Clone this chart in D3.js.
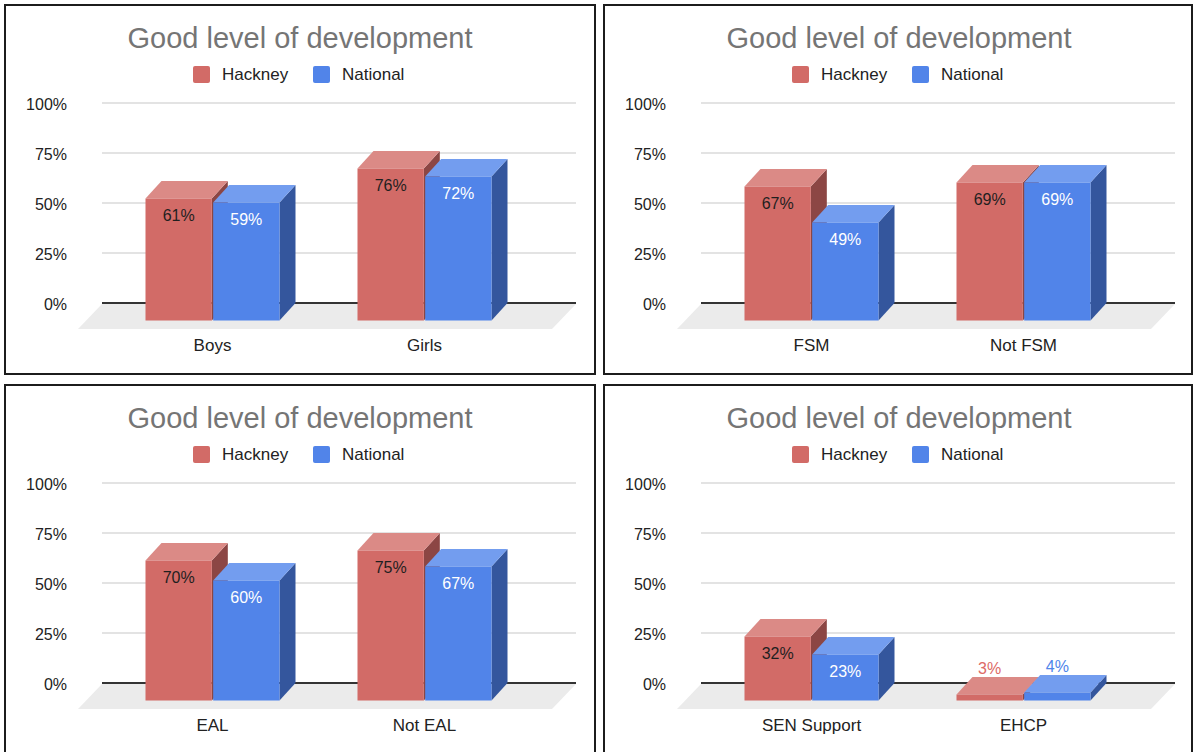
<!DOCTYPE html>
<html>
<head>
<meta charset="utf-8">
<script src="https://cdn.jsdelivr.net/npm/d3@7"></script>
<style>
  html, body { margin: 0; padding: 0; background: #ffffff; }
  svg { display: block; font-family: "Liberation Sans", Arial, sans-serif; }
</style>
</head>
<body>
<svg id="chart" width="1193" height="752"></svg>
<script>
// Series and shared labels
const seriesNames = ["Hackney", "National"];
const titleText = "Good level of development";
const tickValues = [0, 0.25, 0.5, 0.75, 1];
const tickLabels = ["0%", "25%", "50%", "75%", "100%"];

// Gender
const genderCategories = ["Boys", "Girls"];
const genderHackney = [61, 76];
const genderNational = [59, 72];

// Free school meals
const fsmCategories = ["FSM", "Not FSM"];
const fsmHackney = [67, 69];
const fsmNational = [49, 69];

// English as an additional language
const ealCategories = ["EAL", "Not EAL"];
const ealHackney = [70, 75];
const ealNational = [60, 67];

// Special educational needs
const senCategories = ["SEN Support", "EHCP"];
const senHackney = [32, 3];
const senNational = [23, 4];

// Face shades for the 3D columns: front, top, side, label
const palette = {
  Hackney:  { front: "#d26b67", top: "#db8a86", side: "#8c4644", label: "#1f1f1f", outside: "#dd6a66" },
  National: { front: "#5184e9", top: "#739def", side: "#34569d", label: "#ffffff", outside: "#4f85ea" }
};

const panels = [
  { ox: 0,   oy: 0,   cats: genderCategories, h: genderHackney, n: genderNational, frame: [5, 5, 590, 369] },
  { ox: 599, oy: 0,   cats: fsmCategories,    h: fsmHackney,    n: fsmNational,    frame: [604, 5, 588, 369] },
  { ox: 0,   oy: 380, cats: ealCategories,    h: ealHackney,    n: ealNational,    frame: [5, 385, 590, 369] },
  { ox: 599, oy: 380, cats: senCategories,    h: senHackney,    n: senNational,    frame: [604, 385, 588, 369] }
];

const svg = d3.select("#chart");

// Geometry of one panel (panel-local coordinates)
const plotLeft = 102, plotRight = 576;
const depthX = 16, depthY = 17.5;    // front face offset from the back wall
const floorDX = 24, floorDY = 25;    // floor extends further forward than the bars

const y = d3.scaleLinear().domain([0, 1]).range([303, 103]);

panels.forEach(p => {
  // frame
  svg.append("rect")
    .attr("x", p.frame[0]).attr("y", p.frame[1])
    .attr("width", p.frame[2]).attr("height", p.frame[3])
    .attr("fill", "none").attr("stroke", "#1c1c1c").attr("stroke-width", 2);

  const g = svg.append("g").attr("transform", `translate(${p.ox},${p.oy})`);

  // title
  g.append("text")
    .attr("x", 300).attr("y", 48)
    .attr("text-anchor", "middle")
    .attr("font-size", 29)
    .attr("fill", "#757575")
    .text(titleText);

  // legend
  const legendX = [193, 313];
  seriesNames.forEach((s, i) => {
    g.append("rect")
      .attr("x", legendX[i]).attr("y", 66)
      .attr("width", 17).attr("height", 17).attr("rx", 2)
      .attr("fill", palette[s].front);
    g.append("text")
      .attr("x", legendX[i] + 29).attr("y", 80)
      .attr("font-size", 17).attr("fill", "#222")
      .text(s);
  });

  // gridlines on the back wall
  g.selectAll("line.grid")
    .data(tickValues.filter(t => t > 0))
    .join("line")
    .attr("class", "grid")
    .attr("x1", plotLeft).attr("x2", plotRight)
    .attr("y1", d => y(d)).attr("y2", d => y(d))
    .attr("stroke", "#dadada").attr("stroke-width", 1.5);

  // y axis labels
  const yAxis = d3.axisLeft(y)
    .tickValues(tickValues)
    .tickFormat((d, i) => tickLabels[i])
    .tickSize(0).tickPadding(0);
  const ya = g.append("g").attr("transform", "translate(67,1)").call(yAxis);
  ya.select(".domain").remove();
  ya.selectAll("text").attr("font-size", 16).attr("fill", "#222")
    .attr("font-family", "Liberation Sans, Arial, sans-serif");

  // floor
  const fy = y(0) + 1;
  g.append("polygon")
    .attr("points", [
      [plotLeft, fy], [plotRight, fy],
      [plotRight - floorDX, fy + floorDY], [plotLeft - floorDX, fy + floorDY]
    ].map(d => d.join(",")).join(" "))
    .attr("fill", "#ebebeb");

  // baseline
  g.append("line")
    .attr("x1", plotLeft).attr("x2", plotRight)
    .attr("y1", y(0)).attr("y2", y(0))
    .attr("stroke", "#333").attr("stroke-width", 2);

  // category scale on the front plane
  const x = d3.scaleBand().domain(p.cats).range([106.5, 530.5]);
  const xs = d3.scaleBand().domain(seriesNames).range([-67, 67]).paddingInner(0.02);

  const rows = [];
  p.cats.forEach((c, ci) => {
    rows.push({ cat: c, series: "Hackney",  value: p.h[ci] / 100 });
    rows.push({ cat: c, series: "National", value: p.n[ci] / 100 });
  });

  rows.forEach(d => {
    const col = palette[d.series];
    const x0 = x(d.cat) + x.bandwidth() / 2 + xs(d.series);
    const x1 = x0 + xs.bandwidth();
    const yTopF = y(d.value) + depthY;
    const yBotF = y(0) + depthY;
    const yTopB = y(d.value);
    const yBotB = y(0);

    const bar = g.append("g");
    // side face
    bar.append("polygon")
      .attr("points", [[x1, yTopF], [x1 + depthX, yTopB], [x1 + depthX, yBotB], [x1, yBotF]]
        .map(q => q.join(",")).join(" "))
      .attr("fill", col.side);
    // top face
    bar.append("polygon")
      .attr("points", [[x0, yTopF], [x1, yTopF], [x1 + depthX, yTopB], [x0 + depthX, yTopB]]
        .map(q => q.join(",")).join(" "))
      .attr("fill", col.top);
    // front face
    bar.append("rect")
      .attr("x", x0).attr("y", yTopF)
      .attr("width", x1 - x0).attr("height", yBotF - yTopF)
      .attr("fill", col.front);

    // value label
    const inside = (yBotF - yTopF) > 25;
    bar.append("text")
      .attr("x", (x0 + x1) / 2)
      .attr("y", inside ? yTopF + 22 : yTopB - 3)
      .attr("text-anchor", "middle")
      .attr("font-size", 16)
      .attr("fill", inside ? col.label : col.outside)
      .text(Math.round(d.value * 100) + "%");
  });

  // category labels
  const xAxis = d3.axisBottom(x).tickSize(0).tickPadding(0);
  const xa = g.append("g").attr("transform", "translate(0,339)").call(xAxis);
  xa.select(".domain").remove();
  xa.selectAll("text").attr("font-size", 17).attr("fill", "#222")
    .attr("font-family", "Liberation Sans, Arial, sans-serif");
});
</script>
</body>
</html>
